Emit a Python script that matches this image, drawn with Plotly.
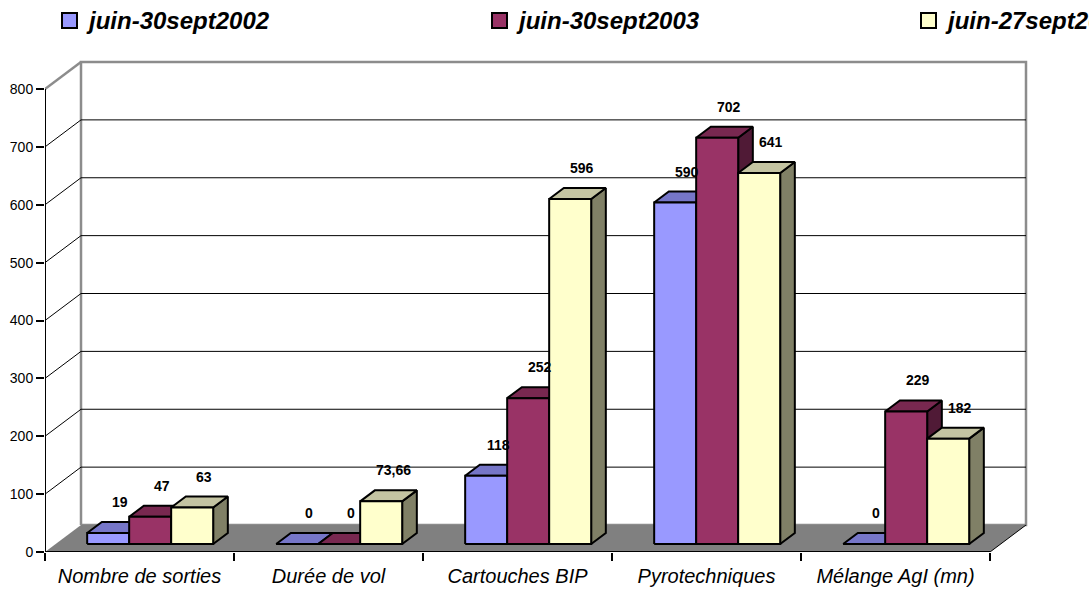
import plotly.graph_objects as go

# ---- data -------------------------------------------------------------
categories = ["Nombre de sorties", "Durée de vol", "Cartouches BIP",
              "Pyrotechniques", "Mélange AgI (mn)"]
series_names = ["juin-30sept2002", "juin-30sept2003", "juin-27sept2004"]
values_2002 = [19, 0, 118, 590, 0]
values_2003 = [47, 0, 252, 702, 229]
values_2004 = [63, 73.66, 596, 641, 182]
labels_2002 = ["19", "0", "118", "590", "0"]
labels_2003 = ["47", "0", "252", "702", "229"]
labels_2004 = ["63", "73,66", "596", "641", "182"]
y_ticks = [0, 100, 200, 300, 400, 500, 600, 700, 800]
y_max_value = 800

series_values = [values_2002, values_2003, values_2004]
series_labels = [labels_2002, labels_2003, labels_2004]

# ---- styling ----------------------------------------------------------
FONT = "Liberation Sans, Arial, sans-serif"
front_colors = ["#9999FF", "#993366", "#FFFFCC"]
top_colors = ["#7676C8", "#782850", "#C4C4A2"]
side_colors = ["#525290", "#501A36", "#808066"]
FLOOR = "#808080"
WALL_EDGE = "#8C8C8C"

# ---- geometry (oblique projection of the 3D box) ----------------------
W, H = 1089, 589
M_L, M_B = 45, 37                  # plot area origin = front-left floor corner
PLOT_W, PLOT_H = W - M_L, H - M_B
CAT_PX = 189                       # width of one category on the front axis
UNIT_PX = 463 / y_max_value        # pixels per value unit
X_MAX = PLOT_W / CAT_PX
Y_MAX = PLOT_H / UNIT_PX
DX = 36 / CAT_PX                   # depth vector of the whole box
DY = 27 / UNIT_PX
F0, F1 = 8 / 27, 19 / 27           # bars sit between these depth fractions
BAR_W = 1 / 4.5                    # gap width 150 %
GAP = (1 - 3 * BAR_W) / 2
N = len(categories)

fig = go.Figure()


def poly(pts, fill, line_color="black", width=2.0):
    xs = [p[0] for p in pts] + [pts[0][0]]
    ys = [p[1] for p in pts] + [pts[0][1]]
    fig.add_trace(go.Scatter(
        x=xs, y=ys, mode="lines", fill="toself", fillcolor=fill,
        line=dict(color=line_color, width=width),
        hoverinfo="skip", showlegend=False))


def line(pts, color, width):
    fig.add_trace(go.Scatter(
        x=[p[0] for p in pts], y=[p[1] for p in pts], mode="lines",
        line=dict(color=color, width=width),
        hoverinfo="skip", showlegend=False))


top = y_max_value
# walls
poly([(0, 0), (DX, DY), (DX, top + DY), (0, top)], "white", "white", 0)
poly([(DX, DY), (N + DX, DY), (N + DX, top + DY), (DX, top + DY)],
     "white", WALL_EDGE, 2.5)
line([(0, top), (DX, top + DY)], WALL_EDGE, 2.5)
# gridlines on the side and back walls
for v in y_ticks[1:-1]:
    line([(0, v), (DX, v + DY), (N + DX, v + DY)], "black", 1)
# floor
poly([(0, 0), (N, 0), (N + DX, DY), (DX, DY)], FLOOR, FLOOR, 0)
line([(N, 0), (N + DX, DY)], "black", 1)
# axis lines
line([(0, 0), (0, top)], "black", 2)
line([(0, 0), (N, 0)], "black", 2)

# bars, painted left to right so each front face hides its neighbour's side
ox, oy = F0 * DX, F0 * DY
ddx, ddy = (F1 - F0) * DX, (F1 - F0) * DY
annotations = []
for i in range(N):
    for s in range(3):
        v = series_values[s][i]
        x0 = i + GAP + s * BAR_W + ox
        x1 = x0 + BAR_W
        b = oy
        t = oy + v
        poly([(x1, b), (x1, t), (x1 + ddx, t + ddy), (x1 + ddx, b + ddy)],
             side_colors[s])
        poly([(x0, t), (x1, t), (x1 + ddx, t + ddy), (x0 + ddx, t + ddy)],
             top_colors[s])
        poly([(x0, b), (x1, b), (x1, t), (x0, t)], front_colors[s])
        annotations.append(dict(
            x=(x0 + x1) / 2, y=t, xref="x", yref="y",
            text=f"<b>{series_labels[s][i]}</b>", showarrow=False,
            xshift=12, yshift=31, xanchor="center", yanchor="middle",
            font=dict(family=FONT, size=14, color="black")))


# legend drawn along the top edge
def px_x(px):
    return (px - M_L) / PLOT_W


def px_y(py):
    return (PLOT_H - py) / PLOT_H


shapes = []
legend_left = [62, 492, 921]
for s, name in enumerate(series_names):
    lx = legend_left[s]
    shapes.append(dict(
        type="rect", xref="paper", yref="paper",
        x0=px_x(lx), x1=px_x(lx + 15), y0=px_y(28), y1=px_y(13),
        fillcolor=front_colors[s], line=dict(color="black", width=2)))
    annotations.append(dict(
        x=px_x(lx + 22), y=px_y(20.5), xref="paper", yref="paper",
        text=f"<b><i>{name}</i></b>", showarrow=False,
        xanchor="left", yanchor="middle",
        font=dict(family=FONT, size=24, color="black")))

fig.update_layout(
    width=W, height=H,
    margin=dict(l=M_L, r=0, t=0, b=M_B),
    paper_bgcolor="white", plot_bgcolor="white",
    showlegend=False,
    shapes=shapes, annotations=annotations,
    xaxis=dict(
        range=[0, X_MAX], showgrid=False, zeroline=False, showline=False,
        tickmode="array", tickvals=[i + 0.5 for i in range(N)],
        ticktext=[f"<i>{c}</i>" for c in categories],
        ticks="", ticklabelstandoff=10,
        tickfont=dict(family=FONT, size=20, color="black"),
        minor=dict(tickmode="array", tickvals=list(range(N + 1)),
                   ticks="outside", ticklen=8, tickwidth=1.5,
                   tickcolor="black", showgrid=False),
        fixedrange=True),
    yaxis=dict(
        range=[0, Y_MAX], showgrid=False, zeroline=False, showline=False,
        tickmode="array", tickvals=y_ticks,
        ticktext=[str(v) for v in y_ticks],
        ticks="outside", ticklen=8, tickwidth=1.5, tickcolor="black",
        tickfont=dict(family=FONT, size=14, color="black"),
        fixedrange=True),
)

fig.write_html("out.html")
